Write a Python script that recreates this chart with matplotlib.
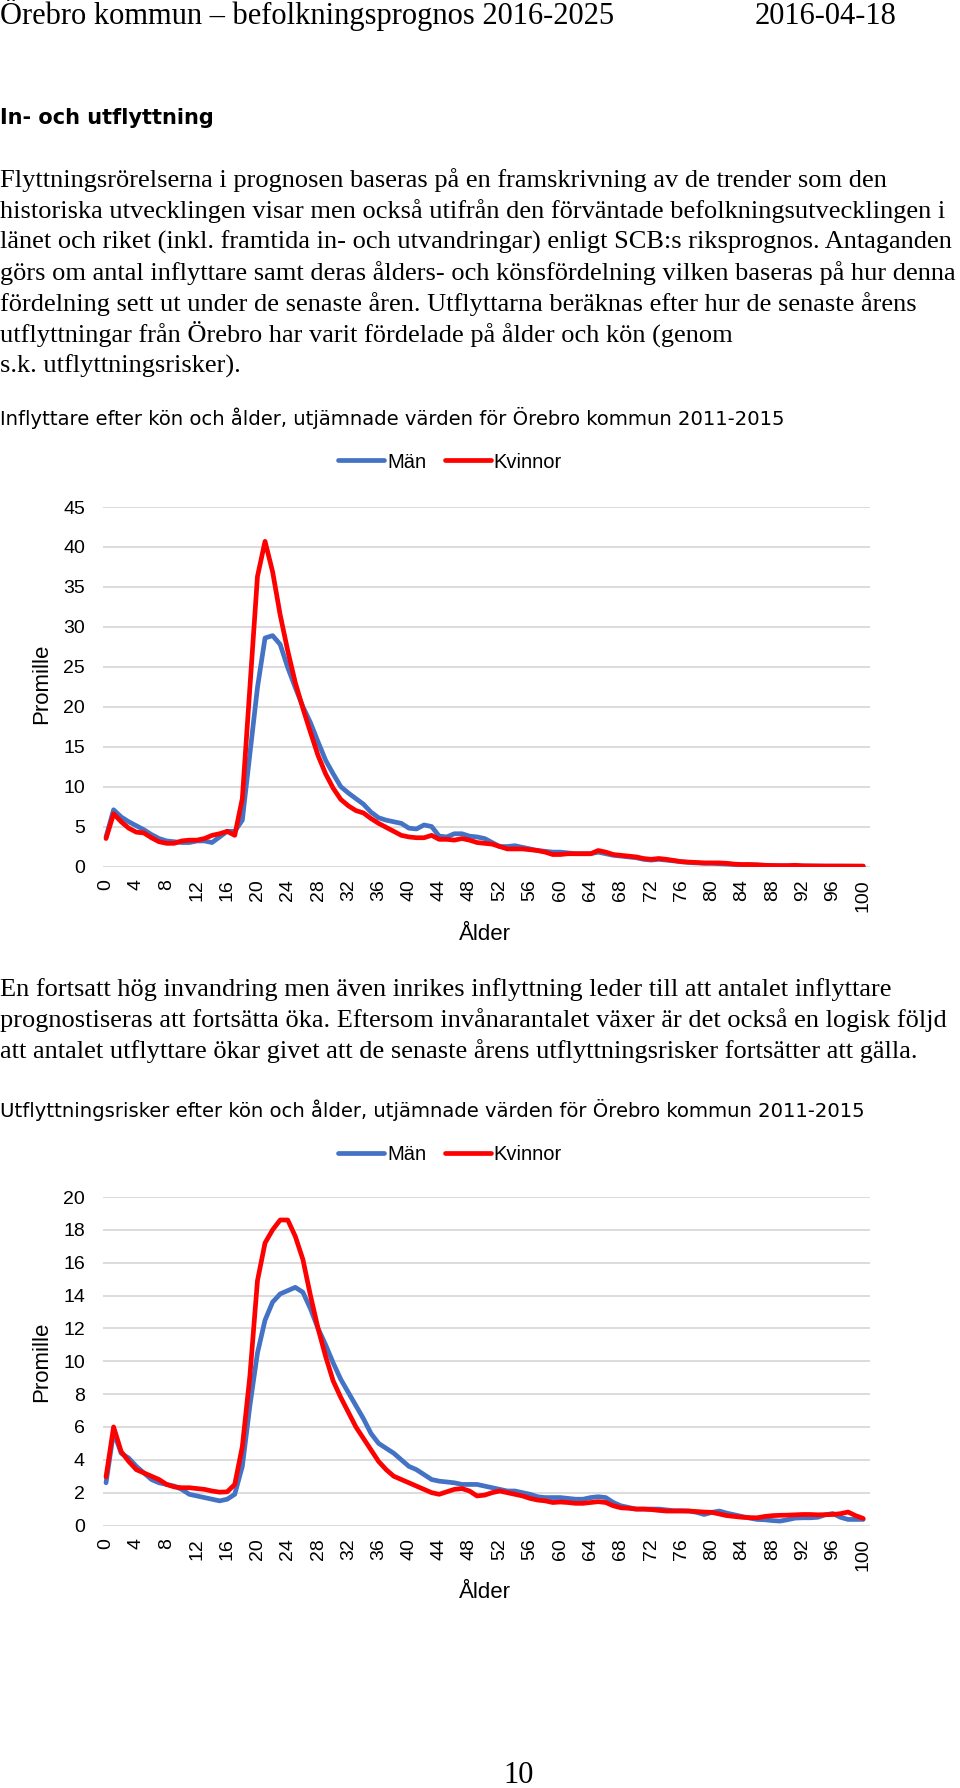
import matplotlib.pyplot as plt
import numpy as np

W, H = 960, 1788

ages = np.arange(0, 101)
tick_ages = np.arange(0, 101, 4)

# Inflyttare (promille), utjämnade värden 2011-2015
in_man = [3.7, 7.1, 6.2, 5.6, 5.1, 4.6, 4.0, 3.5, 3.2, 3.1,
          3.0, 3.0, 3.2, 3.2, 3.0, 3.7, 4.4, 4.4, 5.8, 14.1,
          22.4, 28.6, 28.9, 27.8, 24.9, 22.4, 20.0, 18.0, 15.6, 13.3,
          11.6, 10.0, 9.2, 8.5, 7.8, 6.8, 6.1, 5.8, 5.6, 5.4,
          4.8, 4.7, 5.2, 5.0, 3.8, 3.7, 4.1, 4.1, 3.8, 3.7,
          3.5, 3.0, 2.5, 2.5, 2.6, 2.4, 2.2, 2.0, 1.9, 1.8,
          1.8, 1.7, 1.6, 1.6, 1.6, 1.8, 1.6, 1.4, 1.3, 1.2,
          1.1, 0.9, 0.8, 0.9, 0.8, 0.7, 0.6, 0.5, 0.45, 0.4,
          0.4, 0.35, 0.3, 0.25, 0.2, 0.2, 0.2, 0.15, 0.12, 0.1,
          0.1, 0.1, 0.08, 0.07, 0.06, 0.05, 0.05, 0.05, 0.04, 0.03,
          0.03]
in_kvinnor = [3.5, 6.6, 5.6, 4.8, 4.3, 4.2, 3.6, 3.1, 2.9, 2.9,
              3.2, 3.3, 3.3, 3.5, 3.9, 4.1, 4.4, 3.9, 8.5, 22.4,
              36.3, 40.7, 36.9, 31.5, 27.0, 23.0, 19.8, 16.8, 13.9, 11.6,
              9.8, 8.4, 7.6, 7.0, 6.7, 6.0, 5.4, 4.9, 4.4, 3.9,
              3.7, 3.6, 3.6, 3.9, 3.4, 3.4, 3.3, 3.5, 3.3, 3.0,
              2.9, 2.8, 2.5, 2.2, 2.2, 2.2, 2.1, 2.0, 1.8, 1.5,
              1.5, 1.6, 1.6, 1.6, 1.6, 2.0, 1.8, 1.5, 1.4, 1.3,
              1.2, 1.0, 0.9, 1.0, 0.9, 0.75, 0.6, 0.55, 0.5, 0.45,
              0.45, 0.45, 0.4, 0.3, 0.25, 0.25, 0.2, 0.15, 0.12, 0.1,
              0.1, 0.15, 0.08, 0.07, 0.06, 0.05, 0.05, 0.05, 0.05, 0.05,
              0.05]

# Utflyttningsrisker (promille), utjämnade värden 2011-2015
ut_man = [2.6, 5.7, 4.4, 4.1, 3.6, 3.2, 2.8, 2.6, 2.5, 2.4,
          2.2, 1.9, 1.8, 1.7, 1.6, 1.5, 1.6, 1.9, 3.6, 7.3,
          10.5, 12.5, 13.6, 14.1, 14.3, 14.5, 14.2, 13.2, 12.0, 11.0,
          9.9, 8.9, 8.1, 7.3, 6.5, 5.6, 5.0, 4.7, 4.4, 4.0,
          3.6, 3.4, 3.1, 2.8, 2.7, 2.65, 2.6, 2.5, 2.5, 2.5,
          2.4, 2.3, 2.2, 2.1, 2.1, 2.0, 1.9, 1.75, 1.7, 1.7,
          1.7, 1.65, 1.6, 1.6, 1.7, 1.75, 1.7, 1.4, 1.2, 1.1,
          1.0, 1.0, 1.0, 1.0, 0.95, 0.9, 0.9, 0.88, 0.8, 0.67,
          0.8, 0.88, 0.75, 0.65, 0.55, 0.45, 0.37, 0.35, 0.3, 0.27,
          0.35, 0.45, 0.47, 0.47, 0.5, 0.65, 0.73, 0.5, 0.37, 0.37,
          0.37]
ut_kvinnor = [2.96, 6.0, 4.5, 3.9, 3.4, 3.2, 3.0, 2.8, 2.5, 2.35,
              2.3, 2.3, 2.25, 2.2, 2.1, 2.03, 2.05, 2.5, 4.8, 9.1,
              14.9, 17.2, 18.0, 18.6, 18.6, 17.6, 16.2, 14.0, 12.0, 10.3,
              8.8, 7.8, 6.9, 6.0, 5.3, 4.6, 3.9, 3.4, 3.0, 2.8,
              2.6, 2.4, 2.2, 2.0, 1.9, 2.05, 2.2, 2.25, 2.1, 1.8,
              1.85, 2.0, 2.1, 2.0, 1.9, 1.8, 1.65, 1.55, 1.5, 1.4,
              1.43, 1.4, 1.35, 1.35, 1.4, 1.45, 1.4, 1.2, 1.08, 1.05,
              1.0, 1.0, 0.97, 0.92, 0.88, 0.88, 0.88, 0.88, 0.85, 0.82,
              0.8, 0.7, 0.6, 0.55, 0.5, 0.48, 0.47, 0.55, 0.6, 0.62,
              0.63, 0.65, 0.67, 0.67, 0.65, 0.66, 0.67, 0.72, 0.82, 0.6,
              0.43]

series_names = ['Män', 'Kvinnor']
colors = ['#4472C4', '#FF0000']

header_left = 'Örebro kommun – befolkningsprognos 2016-2025'
header_right = '2016-04-18'
heading = 'In- och utflyttning'
para1 = [
    'Flyttningsrörelserna i prognosen baseras på en framskrivning av de trender som den',
    'historiska utvecklingen visar men också utifrån den förväntade befolkningsutvecklingen i',
    'länet och riket (inkl. framtida in- och utvandringar) enligt SCB:s riksprognos. Antaganden',
    'görs om antal inflyttare samt deras ålders- och könsfördelning vilken baseras på hur denna',
    'fördelning sett ut under de senaste åren. Utflyttarna beräknas efter hur de senaste årens',
    'utflyttningar från Örebro har varit fördelade på ålder och kön (genom',
    's.k. utflyttningsrisker).',
]
para2 = [
    'En fortsatt hög invandring men även inrikes inflyttning leder till att antalet inflyttare',
    'prognostiseras att fortsätta öka. Eftersom invånarantalet växer är det också en logisk följd',
    'att antalet utflyttare ökar givet att de senaste årens utflyttningsrisker fortsätter att gälla.',
]
title1 = 'Inflyttare efter kön och ålder, utjämnade värden för Örebro kommun 2011-2015'
title2 = 'Utflyttningsrisker efter kön och ålder, utjämnade värden för Örebro kommun 2011-2015'

SERIF = 'Liberation Serif'
SANS = 'Liberation Sans'
TITLE_FONT = 'DejaVu Sans'


def fy(y):
    return 1 - y / H


def fx(x):
    return x / W


def text(fig, x, y, s, **kw):
    fig.text(fx(x), fy(y), s, **kw)


def chart(fig, top, bottom, ymax, ystep, man, kvinnor, title, title_y,
          legend_y, label_y, alder_y):
    ax = fig.add_axes([fx(103), fy(bottom), fx(870 - 103), (bottom - top) / H])
    lines = []
    for vals, c, name in zip([man, kvinnor], colors, series_names):
        ln, = ax.plot(ages, vals, color=c, lw=3.4, label=name,
                      solid_joinstyle='round', solid_capstyle='round')
        lines.append(ln)
    ax.set_xlim(-0.4, 100.9)
    ax.set_ylim(0, ymax)
    ax.set_yticks(np.arange(0, ymax + 1, ystep))
    ax.set_xticks(tick_ages)
    ax.set_xticklabels([str(a) for a in tick_ages], rotation=90,
                       fontfamily=SANS, fontsize=14)
    for lab in ax.get_yticklabels():
        lab.set_fontfamily(SANS)
        lab.set_fontsize(14)
    ax.tick_params(length=0)
    ax.tick_params(axis='y', pad=13)
    ax.tick_params(axis='x', pad=9)
    ax.grid(axis='y', color='#D9D9D9', lw=1.3)
    ax.set_axisbelow(True)
    for sp in ax.spines.values():
        sp.set_visible(False)

    text(fig, 0, title_y, title, fontfamily=TITLE_FONT, fontsize=14.1,
         va='baseline')
    fig.legend(handles=lines, loc='center', ncol=2,
               bbox_to_anchor=(fx(450), fy(legend_y)), frameon=False,
               prop={'family': SANS, 'size': 14.5}, handlelength=2.3,
               handletextpad=0.15, columnspacing=0.9)
    text(fig, 42, label_y, 'Promille', rotation=90, fontfamily=SANS,
         fontsize=16, ha='center', va='center')
    text(fig, 485, alder_y, 'Ålder', fontfamily=SANS, fontsize=16,
         ha='center', va='center')
    return ax


def main():
    fig = plt.figure(figsize=(W / 100, H / 100), dpi=100)
    fig.patch.set_facecolor('white')

    text(fig, 0, 24, header_left, fontfamily=SERIF, fontsize=22,
         va='baseline')
    text(fig, 755, 24, header_right, fontfamily=SERIF, fontsize=22,
         va='baseline')
    text(fig, 0, 124, heading, fontfamily=TITLE_FONT, fontsize=15,
         fontweight='bold', va='baseline')

    for i, line in enumerate(para1):
        text(fig, 0, 187 + 31 * i, line, fontfamily=SERIF, fontsize=19,
             va='baseline')
    for i, line in enumerate(para2):
        text(fig, 0, 996 + 31 * i, line, fontfamily=SERIF, fontsize=19,
             va='baseline')

    chart(fig, 507, 866.5, 45, 5, in_man, in_kvinnor, title1, 425, 462,
          684, 935)
    chart(fig, 1197, 1525.5, 20, 2, ut_man, ut_kvinnor, title2, 1117, 1155,
          1362, 1593)

    text(fig, 519, 1783, '10', fontfamily=SERIF, fontsize=22,
         ha='center', va='baseline')

    fig.savefig('out.png', dpi=100, facecolor='white')
    plt.close(fig)


if __name__ == '__main__':
    main()
